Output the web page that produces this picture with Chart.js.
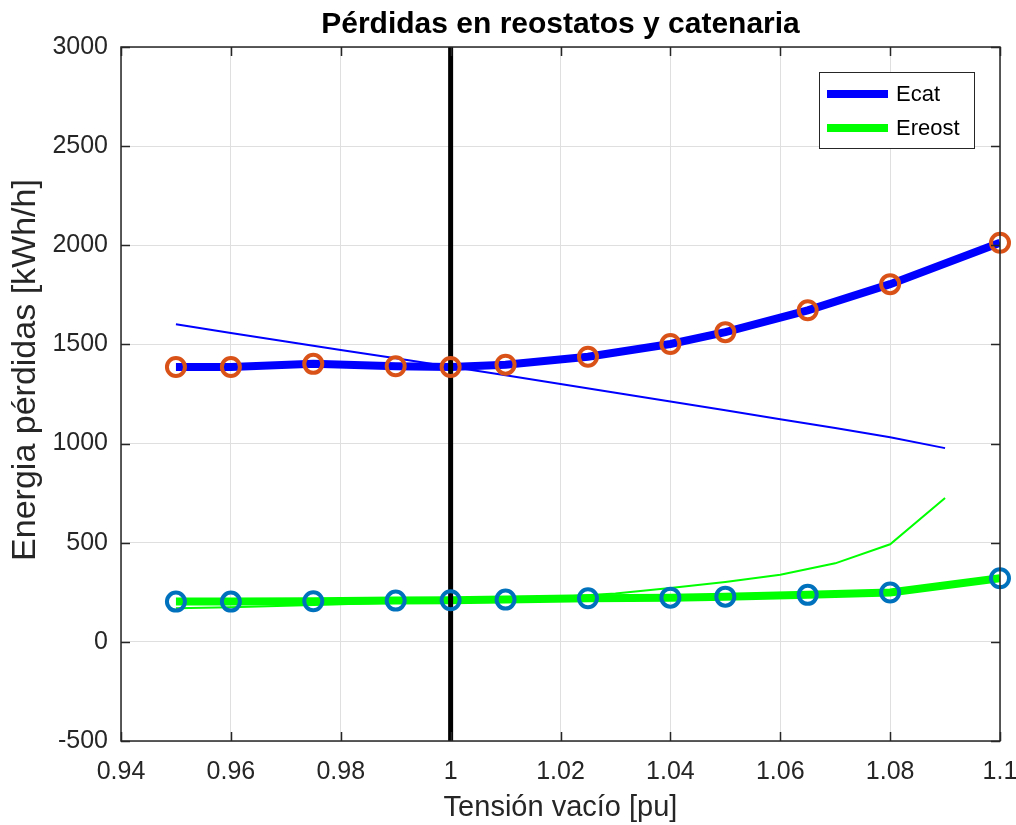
<!DOCTYPE html>
<html>
<head>
<meta charset="utf-8">
<script src="https://cdn.jsdelivr.net/npm/chart.js@4.4.1/dist/chart.umd.min.js"></script>
<style>
  html, body { margin: 0; background: #fff; }
  #wrap { width: 1016px; height: 825px; }
</style>
</head>
<body>
<div id="wrap"><canvas id="chart"></canvas></div>
<script>
// puntos simulados (con marcador)
const tension = [0.95, 0.96, 0.975, 0.99, 1.0, 1.01, 1.025, 1.04, 1.05, 1.065, 1.08, 1.1];
const ecat = [1386, 1386, 1402, 1390, 1386, 1398, 1438, 1502, 1562, 1672, 1804, 2013];
const ereost = [203, 203, 205, 208, 210, 213, 220, 223, 228, 237, 249, 321];

// curvas finas
const tensionFina = [0.95, 0.96, 0.97, 0.98, 0.99, 1.0, 1.01, 1.02, 1.03, 1.04, 1.05, 1.06, 1.07, 1.08, 1.09];
const ecatFina = [1602, 1558, 1515, 1472, 1430, 1388, 1344, 1300, 1256, 1212, 1168, 1123, 1078, 1032, 977];
const ereostFina = [170, 175, 182, 190, 198, 207, 216, 228, 244, 272, 302, 338, 396, 492, 725];

const tensionNominal = 1;
const xTicks = [0.94, 0.96, 0.98, 1, 1.02, 1.04, 1.06, 1.08, 1.1];
const yTicks = [-500, 0, 500, 1000, 1500, 2000, 2500, 3000];

const FONT = '"Liberation Sans", Arial, Helvetica, sans-serif';
const AXIS = '#262626';
const xy = (xs, ys) => xs.map((x, i) => ({ x, y: ys[i] }));

// caja de ejes con ticks hacia dentro, titulos y leyenda
const ejesMatlab = {
  id: 'ejesMatlab',
  afterDraw(chart) {
    const { ctx, chartArea: a, scales: { x, y } } = chart;
    ctx.save();
    ctx.strokeStyle = AXIS;
    ctx.lineWidth = 1.5;
    ctx.strokeRect(a.left, a.top, a.right - a.left, a.bottom - a.top);
    ctx.beginPath();
    const tl = 9;
    xTicks.forEach(v => {
      const px = Math.round(x.getPixelForValue(v)) + 0.5;
      ctx.moveTo(px, a.bottom); ctx.lineTo(px, a.bottom - tl);
      ctx.moveTo(px, a.top); ctx.lineTo(px, a.top + tl);
    });
    yTicks.forEach(v => {
      const py = Math.round(y.getPixelForValue(v)) + 0.5;
      ctx.moveTo(a.left, py); ctx.lineTo(a.left + tl, py);
      ctx.moveTo(a.right, py); ctx.lineTo(a.right - tl, py);
    });
    ctx.stroke();

    // titulo
    ctx.fillStyle = '#000';
    ctx.font = 'bold 30px ' + FONT;
    ctx.textAlign = 'center';
    ctx.textBaseline = 'alphabetic';
    ctx.fillText('Pérdidas en reostatos y catenaria', (a.left + a.right) / 2, 33);

    // titulo eje y
    ctx.save();
    ctx.translate(26, 370);
    ctx.rotate(-Math.PI / 2);
    ctx.fillStyle = AXIS;
    ctx.font = '34px ' + FONT;
    ctx.textBaseline = 'middle';
    ctx.fillText('Energia pérdidas [kWh/h]', 0, 0);
    ctx.restore();

    // leyenda
    const items = chart.data.datasets.filter(d => d.enLeyenda);
    const lx = 819, ly = 72, lw = 155, lh = 76;
    ctx.fillStyle = '#fff';
    ctx.fillRect(lx, ly, lw, lh);
    ctx.strokeStyle = AXIS;
    ctx.lineWidth = 1;
    ctx.strokeRect(lx + 0.5, ly + 0.5, lw, lh);
    ctx.font = '22px ' + FONT;
    ctx.textAlign = 'left';
    ctx.textBaseline = 'middle';
    items.forEach((d, i) => {
      const cy = ly + 22 + i * 34;
      ctx.strokeStyle = d.borderColor;
      ctx.lineWidth = 8;
      ctx.beginPath();
      ctx.moveTo(lx + 8, cy); ctx.lineTo(lx + 69, cy);
      ctx.stroke();
      ctx.fillStyle = '#000';
      ctx.fillText(d.label, lx + 77, cy + 1);
    });
    ctx.restore();
  }
};

const linea = (data, color, width, order, extra) => Object.assign({
  data, borderColor: color, borderWidth: width, pointRadius: 0,
  tension: 0, fill: false, order
}, extra || {});

const marcador = (data, color, order) => ({
  data, showLine: false, pointRadius: 9, pointBorderWidth: 4,
  pointBorderColor: color, pointBackgroundColor: 'rgba(0,0,0,0)',
  borderColor: color, order, clip: false
});

new Chart(document.getElementById('chart'), {
  type: 'line',
  data: {
    datasets: [
      linea(xy(tensionFina, ecatFina), '#0000ff', 2, 7),
      linea(xy(tensionFina, ereostFina), '#00ff00', 2, 6),
      linea(xy(tension, ecat), '#0000ff', 8, 5, { label: 'Ecat', enLeyenda: true }),
      linea(xy(tension, ereost), '#00ff00', 8, 4, { label: 'Ereost', enLeyenda: true }),
      linea([{ x: tensionNominal, y: yTicks[0] }, { x: tensionNominal, y: yTicks[yTicks.length - 1] }], '#000', 5, 3),
      marcador(xy(tension, ecat), '#D95319', 2),
      marcador(xy(tension, ereost), '#0072BD', 1)
    ]
  },
  options: {
    responsive: true,
    maintainAspectRatio: false,
    animation: false,
    layout: { padding: { top: 47, right: 16, left: 0, bottom: 0 } },
    plugins: { legend: { display: false }, tooltip: { enabled: false } },
    scales: {
      x: {
        type: 'linear', min: 0.94, max: 1.1,
        afterBuildTicks: s => { s.ticks = xTicks.map(v => ({ value: v })); },
        afterFit: s => { s.height = 84; s.paddingLeft = 0; s.paddingRight = 0; },
        grid: { color: '#dfdfdf', drawTicks: false },
        border: { display: false },
        ticks: { padding: 16, color: AXIS, font: { family: FONT, size: 25 },
                 callback: v => String(+v.toFixed(2)) },
        title: { display: true, text: 'Tensión vacío [pu]', color: AXIS,
                 font: { family: FONT, size: 29 }, padding: { top: 0, bottom: 0 } }
      },
      y: {
        min: yTicks[0], max: yTicks[yTicks.length - 1],
        afterBuildTicks: s => { s.ticks = yTicks.map(v => ({ value: v })); },
        afterFit: s => { s.width = 121; s.paddingTop = 0; s.paddingBottom = 0; },
        grid: { color: '#dfdfdf', drawTicks: false },
        border: { display: false },
        ticks: { padding: 13, color: AXIS, font: { family: FONT, size: 25 },
                 callback: v => String(v) },
        title: { display: false }
      }
    }
  },
  plugins: [ejesMatlab]
});
</script>
</body>
</html>
